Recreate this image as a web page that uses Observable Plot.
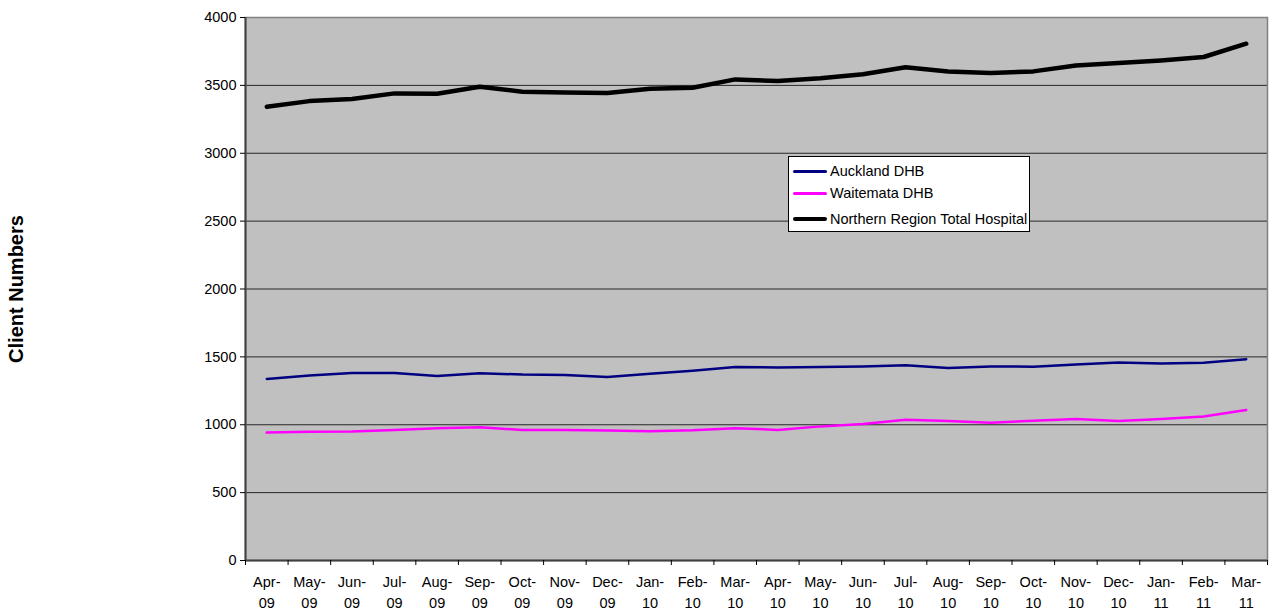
<!DOCTYPE html>
<html>
<head>
<meta charset="utf-8">
<script src="https://cdn.jsdelivr.net/npm/d3@7"></script>
<script src="https://cdn.jsdelivr.net/npm/@observablehq/plot@0.6"></script>
<style>
  body { margin: 0; background: #fff; }
  #chart { position: relative; width: 1276px; height: 616px; font-family: Arial, "Liberation Sans", sans-serif; }
  #legend {
    position: absolute; left: 788px; top: 156px; width: 242px; height: 76px;
    box-sizing: border-box; background: #fff; border: 1px solid #000;
    font: 14.5px Arial, "Liberation Sans", sans-serif; color: #000;
  }
  #legend .row { position: absolute; left: 4px; height: 16px; display: flex; align-items: center; white-space: nowrap; }
  #legend .swatch { width: 34px; margin-right: 3px; border-radius: 2px; }
</style>
</head>
<body>
<div id="chart"></div>
<script>
// Monthly client numbers, April 2009 to March 2011
const months = ["Apr-09","May-09","Jun-09","Jul-09","Aug-09","Sep-09","Oct-09","Nov-09","Dec-09","Jan-10","Feb-10","Mar-10",
                "Apr-10","May-10","Jun-10","Jul-10","Aug-10","Sep-10","Oct-10","Nov-10","Dec-10","Jan-11","Feb-11","Mar-11"];
const auckland = [1337,1362,1382,1382,1360,1380,1370,1367,1352,1375,1398,1426,
                  1422,1425,1430,1439,1418,1430,1428,1444,1459,1451,1456,1483];
const waitemata = [942,949,951,962,975,981,962,962,958,952,960,975,
                   962,988,1005,1037,1027,1015,1030,1042,1028,1043,1060,1108];
const northern = [3342,3384,3399,3441,3438,3490,3453,3448,3443,3475,3483,3544,
                  3532,3553,3582,3634,3602,3592,3603,3647,3665,3684,3709,3807];
const yTicks = [0,500,1000,1500,2000,2500,3000,3500,4000];

const seriesNames = ["Auckland DHB","Waitemata DHB","Northern Region Total Hospital"];
const seriesValues = [auckland, waitemata, northern];
const seriesColors = ["#000080","#ff00ff","#000000"];
const seriesWidths = [2.5, 2.5, 4.5];

// Each month occupies one unit on the x axis; points sit at the unit centre
const rows = seriesNames.map((name, s) =>
  months.map((m, i) => ({series: name, month: m, idx: i + 0.5, value: seriesValues[s][i]})));

const plot = Plot.plot({
  width: 1276,
  height: 616,
  marginLeft: 245,
  marginRight: 9,
  marginTop: 17,
  marginBottom: 56,
  style: {fontFamily: "Arial, 'Liberation Sans', sans-serif", fontSize: "14.5px", color: "#000", background: "#fff"},
  x: {domain: [0, months.length], axis: null},
  y: {domain: [0, 4000], axis: null},
  marks: [
    Plot.frame({fill: "#c0c0c0", stroke: null}),
    Plot.ruleY(yTicks.filter(d => d > 0), {stroke: "#000", strokeWidth: 1, strokeOpacity: 0.8}),
    Plot.frame({stroke: "#808080", strokeWidth: 1.5}),
    // axis lines
    Plot.ruleX([0], {stroke: "#404040", strokeWidth: 2}),
    Plot.ruleY([0], {stroke: "#404040", strokeWidth: 2}),
    // y ticks and labels
    Plot.axisY({ticks: yTicks, tickSize: 5, tickPadding: 4, tickFormat: d => String(d), fontSize: 14.5, label: null}),
    // x ticks at month boundaries
    Plot.axisX({ticks: d3.range(months.length + 1), tickSize: 5, tickFormat: () => "", label: null}),
    // two-line month labels
    Plot.text(months, {
      x: (d, i) => i + 0.5,
      text: d => d.replace("-", "-\n"),
      frameAnchor: "bottom",
      lineAnchor: "top",
      dy: 12,
      lineHeight: 1.45,
      fontSize: 14.5
    }),
    // y axis title
    Plot.text(["Client Numbers"], {
      frameAnchor: "left",
      textAnchor: "middle",
      dx: -229,
      rotate: -90,
      fontWeight: "bold",
      fontSize: 20
    }),
    ...rows.map((data, s) => Plot.line(data, {
      x: "idx", y: "value", stroke: seriesColors[s], strokeWidth: seriesWidths[s],
      strokeLinejoin: "round", strokeLinecap: "round"
    }))
  ]
});

const chart = document.getElementById("chart");
chart.appendChild(plot);

// legend box drawn over the plot area
const legend = document.createElement("div");
legend.id = "legend";
const rowTops = [6, 28, 54];
seriesNames.forEach((name, s) => {
  const row = document.createElement("div");
  row.className = "row";
  row.style.top = rowTops[s] + "px";
  const sw = document.createElement("span");
  sw.className = "swatch";
  sw.style.height = (s === 2 ? 4.5 : 3) + "px";
  sw.style.background = seriesColors[s];
  const label = document.createElement("span");
  label.textContent = name;
  row.appendChild(sw);
  row.appendChild(label);
  legend.appendChild(row);
});
chart.appendChild(legend);
</script>
</body>
</html>
